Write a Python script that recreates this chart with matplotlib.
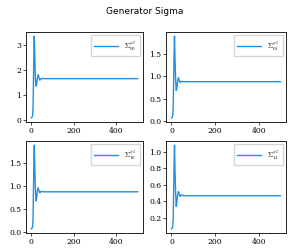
import matplotlib
matplotlib.use("Agg")
import matplotlib.pyplot as plt
import numpy as np

plt.rcParams['mathtext.fontset'] = 'cm'
plt.rcParams['font.family'] = ['DejaVu Serif']

t = [0, 3, 6, 8, 10, 12, 14, 16, 19, 22, 25, 28, 32, 36, 40, 44, 48, 55, 500]
s00 = [0.10, 0.12, 0.20, 0.5, 1.5, 2.6, 3.35, 2.6, 1.7, 1.36, 1.45, 1.65, 1.82, 1.70, 1.60, 1.64, 1.67, 1.66, 1.66]
s01 = [0.07, 0.08, 0.12, 0.3, 0.9, 1.5, 1.90, 1.45, 0.95, 0.68, 0.74, 0.88, 0.97, 0.91, 0.86, 0.88, 0.89, 0.88, 0.88]
s10 = [0.07, 0.08, 0.12, 0.3, 0.9, 1.5, 1.90, 1.45, 0.95, 0.68, 0.74, 0.88, 0.97, 0.91, 0.86, 0.88, 0.89, 0.88, 0.88]
s11 = [0.07, 0.08, 0.10, 0.2, 0.5, 0.85, 1.08, 0.80, 0.52, 0.34, 0.40, 0.47, 0.52, 0.49, 0.46, 0.47, 0.48, 0.47, 0.47]
series = [s00, s01, s10, s11]
labels = [r'$\Sigma^{\sigma^2}_{00}$', r'$\Sigma^{\sigma^2}_{01}$', r'$\Sigma^{\sigma^2}_{10}$', r'$\Sigma^{\sigma^2}_{11}$']
xticks = [0, 200, 400]

fig = plt.figure(figsize=(2.89, 2.49), dpi=100)
fig.suptitle('Generator Sigma', fontsize=6.5, family='DejaVu Sans', y=0.97)
rects = [
    [26/289, 1-122/249, 117/289, 90/249],
    [166/289, 1-122/249, 120/289, 90/249],
    [26/289, 1-233/249, 117/289, 92/249],
    [166/289, 1-233/249, 120/289, 92/249],
]
for r, s, lab in zip(rects, series, labels):
    ax = fig.add_axes(r)
    ax.plot(t, s, color='#1f8fe6', lw=1.0, label=lab)
    ax.set_xticks(xticks)
    ax.tick_params(labelsize=5.5, length=2, width=0.5, pad=1.5)
    for sp in ax.spines.values():
        sp.set_linewidth(0.6)
    ax.legend(loc='upper right', fontsize=5, frameon=True, handlelength=3.5,
              borderpad=0.5, fancybox=False, edgecolor='#cccccc')
fig.axes[3].set_yticks([0.2, 0.4, 0.6, 0.8, 1.0])
fig.savefig('out.png', dpi=100)
